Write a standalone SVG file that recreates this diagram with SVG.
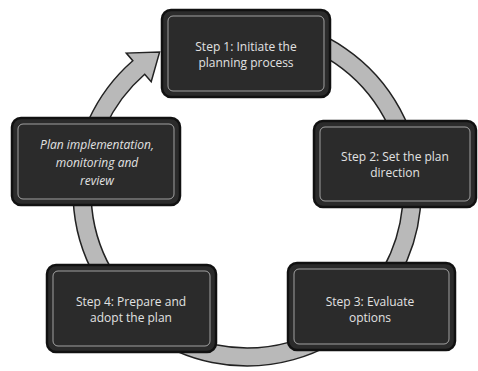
<svg xmlns="http://www.w3.org/2000/svg" width="478" height="371" viewBox="0 0 478 371">
<style>
.box{fill:#2b2b2b;stroke:#111;stroke-width:2.5}
.inner{fill:none;stroke:#c8c8c8;stroke-width:1;opacity:.75}
.t{font-family:"Open Sans","Liberation Sans",sans-serif;font-size:12px;fill:#e2e2e2;text-anchor:middle}
.it{font-style:italic}
.ring{fill:#b9b9b9;stroke:#222;stroke-width:1.5;stroke-linejoin:miter}
</style>
<rect width="478" height="371" fill="#ffffff"/>
<g id="connectors">
<path class="ring" d="M277.2,20.6 A174,174 0 1 1 132.8,60.7 L126.3,53.1 L159.6,52.1 L151.2,81.8 L144.7,74.3 A156,156 0 1 0 274.1,38.4 Z"/>
</g>
<g id="step1">
<rect class="box" x="162" y="10" width="168" height="87" rx="9"/>
<rect class="inner" x="168" y="16" width="156" height="75" rx="5"/>
<text class="t" x="246" y="51">Step 1: Initiate the</text>
<text class="t" x="246" y="67">planning process</text>
</g>
<g id="step2">
<rect class="box" x="314" y="121" width="162" height="86" rx="9"/>
<rect class="inner" x="320" y="127" width="150" height="74" rx="5"/>
<text class="t" x="395" y="161">Step 2: Set the plan</text>
<text class="t" x="395" y="177">direction</text>
</g>
<g id="step3">
<rect class="box" x="288" y="263" width="167" height="87" rx="9"/>
<rect class="inner" x="294" y="269" width="155" height="75" rx="5"/>
<text class="t" x="370" y="306">Step 3: Evaluate</text>
<text class="t" x="370" y="322">options</text>
</g>
<g id="step4">
<rect class="box" x="47" y="265" width="169" height="87" rx="9"/>
<rect class="inner" x="53" y="271" width="157" height="75" rx="5"/>
<text class="t" x="131" y="306">Step 4: Prepare and</text>
<text class="t" x="131" y="322">adopt the plan</text>
</g>
<g id="step5">
<rect class="box" x="12" y="118" width="168" height="87" rx="9"/>
<rect class="inner" x="18" y="124" width="156" height="75" rx="5"/>
<text class="t it" x="97" y="149">Plan implementation,</text>
<text class="t it" x="97" y="167">monitoring and</text>
<text class="t it" x="97" y="185">review</text>
</g>
</svg>
